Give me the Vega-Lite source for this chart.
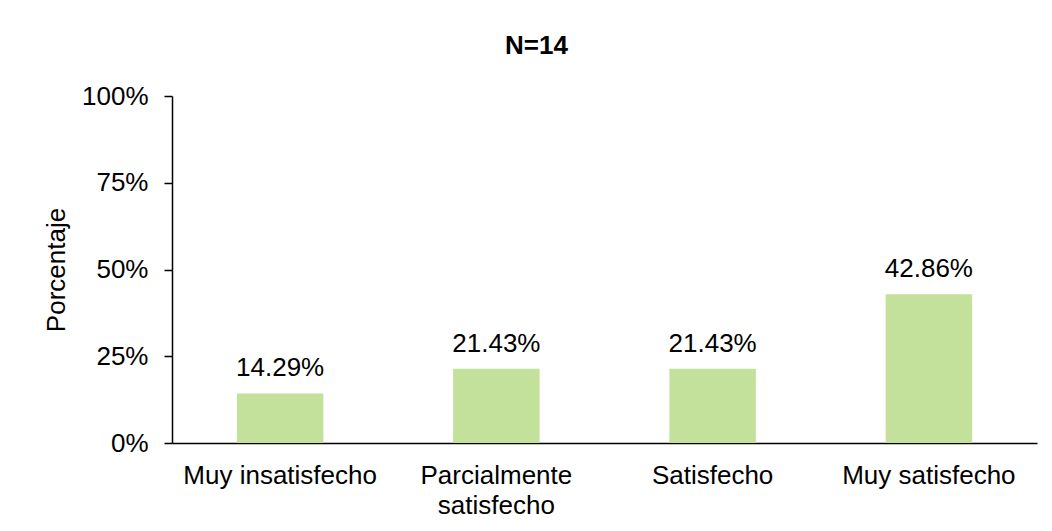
{
  "$schema": "https://vega.github.io/schema/vega-lite/v6.json",
  "width": 865,
  "height": 347,
  "autosize": {"type": "none"},
  "padding": {"left": 172, "top": 96, "right": 15, "bottom": 88},
  "background": "white",
  "title": {
    "text": "N=14",
    "fontSize": 26,
    "fontWeight": "bold",
    "font": "Liberation Sans",
    "color": "black",
    "anchor": "middle",
    "dx": -68,
    "baseline": "alphabetic",
    "offset": 39,
    "dy": 36
  },
  "data": {
    "values": [
      {"categoria": "Muy insatisfecho", "porcentaje": 14.29},
      {"categoria": "Parcialmente satisfecho", "porcentaje": 21.43},
      {"categoria": "Satisfecho", "porcentaje": 21.43},
      {"categoria": "Muy satisfecho", "porcentaje": 42.86}
    ]
  },
  "encoding": {
    "x": {
      "field": "categoria",
      "type": "nominal",
      "sort": null,
      "scale": {"paddingInner": 0.6, "paddingOuter": 0.3},
      "axis": {
        "title": null,
        "labelAngle": 0,
        "ticks": false,
        "domainColor": "black",
        "domainWidth": 1.5,
        "labelFont": "Liberation Sans",
        "labelFontSize": 26,
        "labelColor": "black",
        "labelPadding": 19,
        "labelLineHeight": 30,
        "labelLimit": 300,
        "labelExpr": "datum.value == 'Parcialmente satisfecho' ? ['Parcialmente', 'satisfecho'] : datum.value"
      }
    },
    "y": {
      "field": "porcentaje",
      "type": "quantitative",
      "scale": {"domain": [0, 100], "nice": false},
      "axis": {
        "title": "Porcentaje",
        "titleFont": "Liberation Sans",
        "titleFontSize": 26,
        "titleFontWeight": "normal",
        "titleColor": "black",
        "titlePadding": 12,
        "values": [0, 25, 50, 75, 100],
        "labelExpr": "datum.value + '%'",
        "labelFont": "Liberation Sans",
        "labelFontSize": 26,
        "labelColor": "black",
        "labelPadding": 16,
        "tickSize": 8,
        "tickColor": "black",
        "tickWidth": 1.5,
        "domainColor": "black",
        "domainWidth": 1.5,
        "grid": false
      }
    }
  },
  "layer": [
    {
      "mark": {"type": "bar", "color": "#C3E19A"}
    },
    {
      "transform": [
        {"calculate": "format(datum.porcentaje, '.2f') + '%'", "as": "etiqueta"}
      ],
      "mark": {
        "type": "text",
        "baseline": "alphabetic",
        "dy": -17,
        "font": "Liberation Sans",
        "fontSize": 26,
        "color": "black"
      },
      "encoding": {
        "text": {"field": "etiqueta", "type": "nominal"}
      }
    }
  ],
  "config": {
    "view": {"stroke": null}
  }
}
